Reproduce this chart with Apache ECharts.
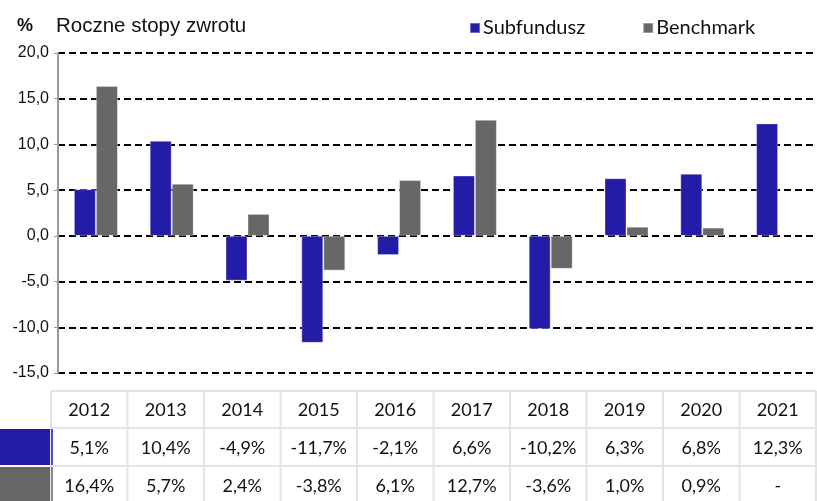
<!DOCTYPE html>
<html lang="pl">
  <head>
    <meta charset="UTF-8">
    <title>Roczne stopy zwrotu</title>
    <script src="https://cdn.jsdelivr.net/npm/echarts@6.0.0/dist/echarts.min.js"></script>
  </head>
  <body style="margin:0">
    <div id="main" style="width: 817px;height:501px;"></div>
    <script type="text/javascript">
      // data
      const years = ['2012', '2013', '2014', '2015', '2016', '2017', '2018', '2019', '2020', '2021'];
      const subfundusz = [5.1, 10.4, -4.9, -11.7, -2.1, 6.6, -10.2, 6.3, 6.8, 12.3];
      const benchmark = [16.4, 5.7, 2.4, -3.8, 6.1, 12.7, -3.6, 1.0, 0.9, null];
      const seriesNames = ['Subfundusz', 'Benchmark'];
      const colors = ['#231ca8', '#676767'];

      const fmt = v => v == null ? '-' : v.toFixed(1).replace('.', ',') + '%';

      let myChart = echarts.init(document.getElementById('main'));

      // table below the chart, drawn with graphic elements
      const tLeft = 51, colW = 76.5, rowTops = [391, 428, 466, 504];
      const lineColor = '#e4e4e4';
      const graphics = [];
      const rows = [years, subfundusz.map(fmt), benchmark.map(fmt)];
      rows.forEach((row, r) => {
        row.forEach((txt, c) => {
          graphics.push({
            type: 'text',
            x: tLeft + colW * (c + 0.5),
            y: (rowTops[r] + rowTops[r + 1]) / 2 + 1,
            style: {
              text: txt, fill: '#111', font: '18px Lato',
              align: 'center', verticalAlign: 'middle'
            }
          });
        });
      });
      // horizontal lines
      rowTops.slice(0, 3).forEach(y => {
        graphics.push({
          type: 'line', shape: { x1: tLeft, y1: y, x2: tLeft + colW * 10, y2: y },
          style: { stroke: lineColor, lineWidth: 2 }
        });
      });
      // vertical lines
      for (let c = 0; c <= 10; c++) {
        graphics.push({
          type: 'line', shape: { x1: tLeft + colW * c, y1: rowTops[0], x2: tLeft + colW * c, y2: 501 },
          style: { stroke: lineColor, lineWidth: 2 }
        });
      }
      // colour keys in the row headers
      colors.forEach((col, i) => {
        graphics.push({
          type: 'rect', shape: { x: 0, y: rowTops[i + 1] + 1, width: 50, height: rowTops[i + 2] - rowTops[i + 1] - 2 },
          style: { fill: col }
        });
        graphics.push({
          type: 'line', shape: { x1: tLeft + 1, y1: rowTops[i + 1] + 1, x2: tLeft + 1, y2: rowTops[i + 2] - 1 },
          style: { stroke: col, lineWidth: 1.5 }
        });
      });

      let options = {
        animation: false,
        title: {
          left: 12, top: 11,
          text: '{p|%}{t|Roczne stopy zwrotu}',
          textStyle: {
            rich: {
              p: { fontFamily: 'Liberation Sans', fontWeight: 'bold', fontSize: 18, color: '#111', width: 39 },
              t: { fontFamily: 'Liberation Sans', fontWeight: 'normal', fontSize: 20.5, color: '#111' }
            }
          }
        },
        legend: {
          left: 464, top: 13,
          icon: 'rect', itemWidth: 10, itemHeight: 10, itemGap: 57,
          textStyle: { fontFamily: 'Lato', fontSize: 20, color: '#111', padding: [0, 0, 0, -2] },
          data: seriesNames
        },
        grid: { left: 58, right: 1, top: 53, bottom: 128 },
        xAxis: {
          type: 'category',
          data: years,
          axisLine: { show: false },
          axisTick: { show: false },
          axisLabel: { show: false }
        },
        yAxis: {
          type: 'value',
          min: -15, max: 20, interval: 5,
          axisLine: { show: true, lineStyle: { color: '#9a9a9a', width: 2 } },
          axisTick: { show: true, length: 4, lineStyle: { color: '#9a9a9a' } },
          axisLabel: {
            formatter: v => v.toFixed(1).replace('.', ','),
            fontFamily: 'Liberation Sans', fontSize: 16, color: '#111', margin: 9
          },
          splitLine: { lineStyle: { color: '#000', width: 2, type: [7, 4] } }
        },
        series: seriesNames.map((name, i) => ({
          name: name,
          type: 'bar',
          data: i === 0 ? subfundusz : benchmark,
          barWidth: 22,
          barGap: '0%',
          itemStyle: { color: colors[i], borderColor: 'rgba(255,255,255,0.35)', borderWidth: 1 }
        })),
        graphic: graphics
      };

      myChart.setOption(options);
    </script>
  </body>
</html>
